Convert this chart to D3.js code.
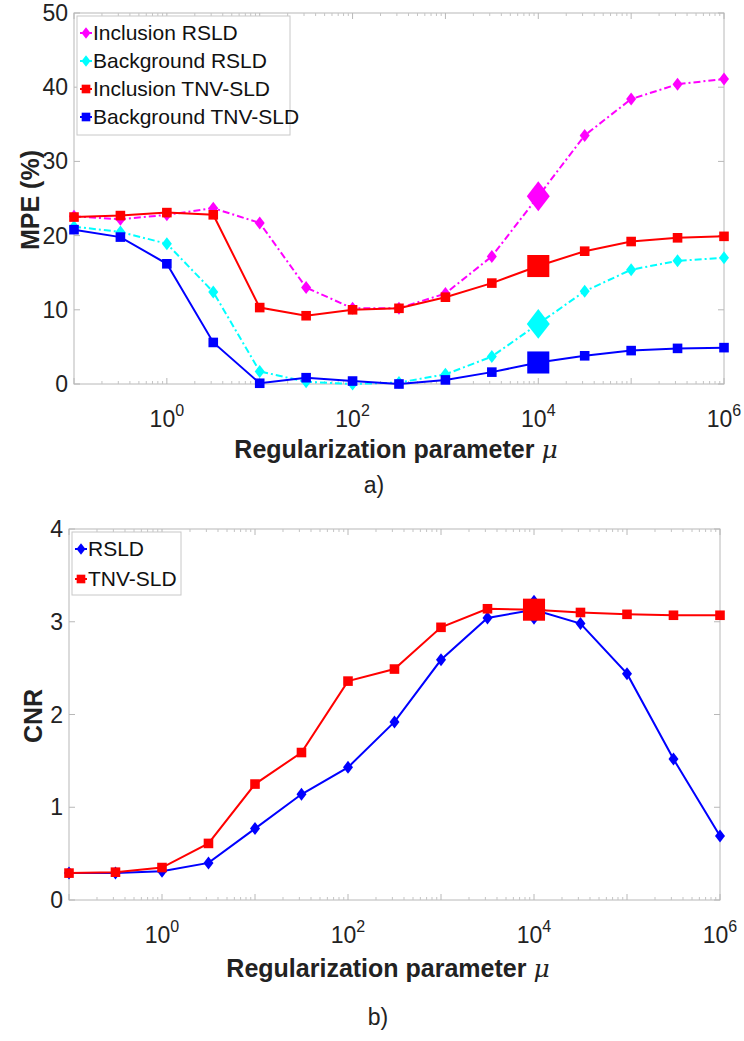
<!DOCTYPE html>
<html>
<head>
<meta charset="utf-8">
<script src="https://d3js.org/d3.v7.min.js"></script>
<style>
  body { margin: 0; background: #fff; }
  text { font-family: "Liberation Sans", Arial, sans-serif; fill: #222; }
  .tick-label { font-size: 23px; }
  .axis-title { font-size: 25px; font-weight: bold; }
  .legend-text { font-size: 21px; fill: #111; }
</style>
</head>
<body>
<svg width="744" height="1041"></svg>
<script>
// regularization parameter values (x)
var mu = [0.1, 0.316, 1, 3.16, 10, 31.6, 100, 316, 1000, 3160, 10000, 31600, 100000, 316000, 1000000];
var selIndex = 10; // the highlighted point at mu = 10^4

// MPE (%) - panel a
var inclRSLD = [22.6, 22.2, 22.8, 23.7, 21.7, 13.0, 10.2, 10.2, 12.2, 17.2, 25.3, 33.5, 38.4, 40.4, 41.1];
var bgRSLD   = [21.2, 20.5, 18.9, 12.4, 1.7, 0.3, 0.0, 0.2, 1.3, 3.7, 8.1, 12.5, 15.4, 16.6, 17.0];
var inclTNV  = [22.5, 22.7, 23.1, 22.8, 10.3, 9.2, 10.0, 10.2, 11.7, 13.6, 15.9, 17.9, 19.2, 19.7, 19.9];
var bgTNV    = [20.8, 19.8, 16.2, 5.6, 0.1, 0.85, 0.4, 0.0, 0.55, 1.6, 2.9, 3.8, 4.5, 4.8, 4.9];

// CNR - panel b
var cnrRSLD = [0.29, 0.29, 0.31, 0.40, 0.77, 1.14, 1.43, 1.92, 2.59, 3.04, 3.13, 2.98, 2.44, 1.52, 0.69];
var cnrTNV  = [0.29, 0.30, 0.35, 0.61, 1.25, 1.59, 2.36, 2.49, 2.94, 3.14, 3.13, 3.10, 3.08, 3.07, 3.07];

var xTicks = [1, 100, 10000, 1000000];
var xTickExp = ["0", "2", "4", "6"];

var svg = d3.select("svg");

function panel(opts) {
  var x = d3.scaleLog().domain([0.1, 1e6]).range([opts.left, opts.right]);
  var y = d3.scaleLinear().domain(opts.ydomain).range([opts.bottom, opts.top]);
  var g = svg.append("g");

  // box
  g.append("rect")
    .attr("x", opts.left).attr("y", opts.top)
    .attr("width", opts.right - opts.left).attr("height", opts.bottom - opts.top)
    .attr("fill", "none").attr("stroke", "#b8b8b8").attr("stroke-width", 1);

  // minor log ticks
  var minor = [];
  for (var e = -1; e < 6; e++) for (var k = 2; k < 10; k++) minor.push(k * Math.pow(10, e));
  g.selectAll(".mtb").data(minor).enter().append("line")
    .attr("x1", d => x(d)).attr("x2", d => x(d))
    .attr("y1", opts.bottom).attr("y2", opts.bottom - 3)
    .attr("stroke", "#c4c4c4");
  g.selectAll(".mtt").data(minor).enter().append("line")
    .attr("x1", d => x(d)).attr("x2", d => x(d))
    .attr("y1", opts.top).attr("y2", opts.top + 3)
    .attr("stroke", "#c4c4c4");

  // major x ticks
  var majors = [0.1, 1, 10, 100, 1000, 10000, 100000, 1000000];
  g.selectAll(".xt").data(majors).enter().append("line")
    .attr("x1", d => x(d)).attr("x2", d => x(d))
    .attr("y1", opts.bottom).attr("y2", opts.bottom - 6)
    .attr("stroke", "#b8b8b8");
  g.selectAll(".xt2").data(majors).enter().append("line")
    .attr("x1", d => x(d)).attr("x2", d => x(d))
    .attr("y1", opts.top).attr("y2", opts.top + 6)
    .attr("stroke", "#b8b8b8");

  // x tick labels 10^n
  var xl = g.selectAll(".xl").data(xTicks).enter().append("text")
    .attr("class", "tick-label")
    .attr("x", d => x(d))
    .attr("y", opts.bottom + opts.xlabOff)
    .attr("text-anchor", "middle");
  xl.append("tspan").text("10");
  xl.append("tspan").attr("dy", -11).attr("font-size", 16).text((d, i) => xTickExp[i]);

  // y ticks
  var yt = opts.yticks;
  g.selectAll(".yt").data(yt).enter().append("line")
    .attr("x1", opts.left).attr("x2", opts.left + 6)
    .attr("y1", d => y(d)).attr("y2", d => y(d))
    .attr("stroke", "#b8b8b8");
  g.selectAll(".yt2").data(yt).enter().append("line")
    .attr("x1", opts.right).attr("x2", opts.right - 6)
    .attr("y1", d => y(d)).attr("y2", d => y(d))
    .attr("stroke", "#b8b8b8");
  g.selectAll(".yl").data(yt).enter().append("text")
    .attr("class", "tick-label")
    .attr("x", opts.left - 6)
    .attr("y", d => y(d) + 8)
    .attr("text-anchor", "end")
    .text(d => d);

  // titles
  var xt = g.append("text").attr("class", "axis-title")
    .attr("x", opts.titleX)
    .attr("y", opts.bottom + opts.titleOff)
    .attr("text-anchor", "middle");
  xt.append("tspan").text("Regularization parameter ");
  xt.append("tspan").attr("font-style", "italic").attr("font-weight", "normal")
    .attr("font-family", "DejaVu Serif").text("\u03bc");

  g.append("text").attr("class", "axis-title")
    .attr("transform", "translate(" + opts.ytitleX + "," + opts.ytitleY + ") rotate(-90)")
    .attr("text-anchor", "middle")
    .text(opts.ytitle);

  g.append("text").attr("class", "tick-label")
    .attr("x", opts.panelX).attr("y", opts.bottom + opts.panelOff)
    .attr("text-anchor", "middle").attr("font-size", 22)
    .text(opts.panelLabel);

  // series
  opts.series.forEach(function (s) {
    var line = d3.line().x((d, i) => x(mu[i])).y(d => y(d));
    g.append("path").datum(s.values)
      .attr("d", line)
      .attr("fill", "none")
      .attr("stroke", s.color)
      .attr("stroke-width", 2)
      .attr("stroke-dasharray", s.dash ? "7,3,2,3" : null);
    g.selectAll(null).data(s.values).enter().append("path")
      .attr("transform", (d, i) => "translate(" + x(mu[i]) + "," + y(d) + ")")
      .attr("d", (d, i) => marker(s.shape, i === selIndex ? 2.3 : 1))
      .attr("fill", s.color);
  });

  // legend
  var lg = g.append("g");
  var n = opts.series.length;
  lg.append("rect")
    .attr("x", opts.left + 3).attr("y", opts.top + 3)
    .attr("width", opts.legendW).attr("height", 7 + n * 28)
    .attr("fill", "#fff").attr("stroke", "#c8c8c8");
  opts.series.forEach(function (s, i) {
    var cy = opts.top + 20 + i * opts.legendStep;
    var cx = opts.left + 12;
    lg.append("line").attr("x1", cx - 6).attr("x2", cx + 6)
      .attr("y1", cy).attr("y2", cy).attr("stroke", s.color).attr("stroke-width", 2);
    lg.append("path").attr("transform", "translate(" + cx + "," + cy + ")")
      .attr("d", marker(s.shape, 0.9)).attr("fill", s.color);
    lg.append("text").attr("class", "legend-text")
      .attr("x", cx + 7).attr("y", cy + 7).text(s.name);
  });
}

function marker(shape, scale) {
  if (shape === "diamond") {
    var w = 5 * scale, h = 6.5 * scale;
    return "M0," + (-h) + "L" + w + ",0L0," + h + "L" + (-w) + ",0Z";
  }
  var s = 4.8 * scale;
  return "M" + (-s) + "," + (-s) + "h" + (2 * s) + "v" + (2 * s) + "h" + (-2 * s) + "Z";
}

panel({
  left: 74, right: 724, top: 13, bottom: 384,
  ydomain: [0, 50], yticks: [0, 10, 20, 30, 40, 50],
  ytitle: "MPE (%)", ytitleX: 39, ytitleY: 200,
  xlabOff: 43, titleOff: 74, titleX: 396,
  panelLabel: "a)", panelX: 374, panelOff: 109,
  legendW: 213, legendStep: 28,
  series: [
    { name: "Inclusion RSLD", values: inclRSLD, color: "#ff00ff", shape: "diamond", dash: true },
    { name: "Background RSLD", values: bgRSLD, color: "#00ffff", shape: "diamond", dash: true },
    { name: "Inclusion TNV-SLD", values: inclTNV, color: "#ff0000", shape: "square", dash: false },
    { name: "Background TNV-SLD", values: bgTNV, color: "#0000ff", shape: "square", dash: false }
  ]
});

panel({
  left: 69, right: 720, top: 529, bottom: 900,
  ydomain: [0, 4], yticks: [0, 1, 2, 3, 4],
  ytitle: "CNR", ytitleX: 42, ytitleY: 716,
  xlabOff: 43, titleOff: 77, titleX: 388,
  panelLabel: "b)", panelX: 378, panelOff: 125,
  legendW: 109, legendStep: 30,
  series: [
    { name: "RSLD", values: cnrRSLD, color: "#0000ff", shape: "diamond", dash: false },
    { name: "TNV-SLD", values: cnrTNV, color: "#ff0000", shape: "square", dash: false }
  ]
});
</script>
</body>
</html>
